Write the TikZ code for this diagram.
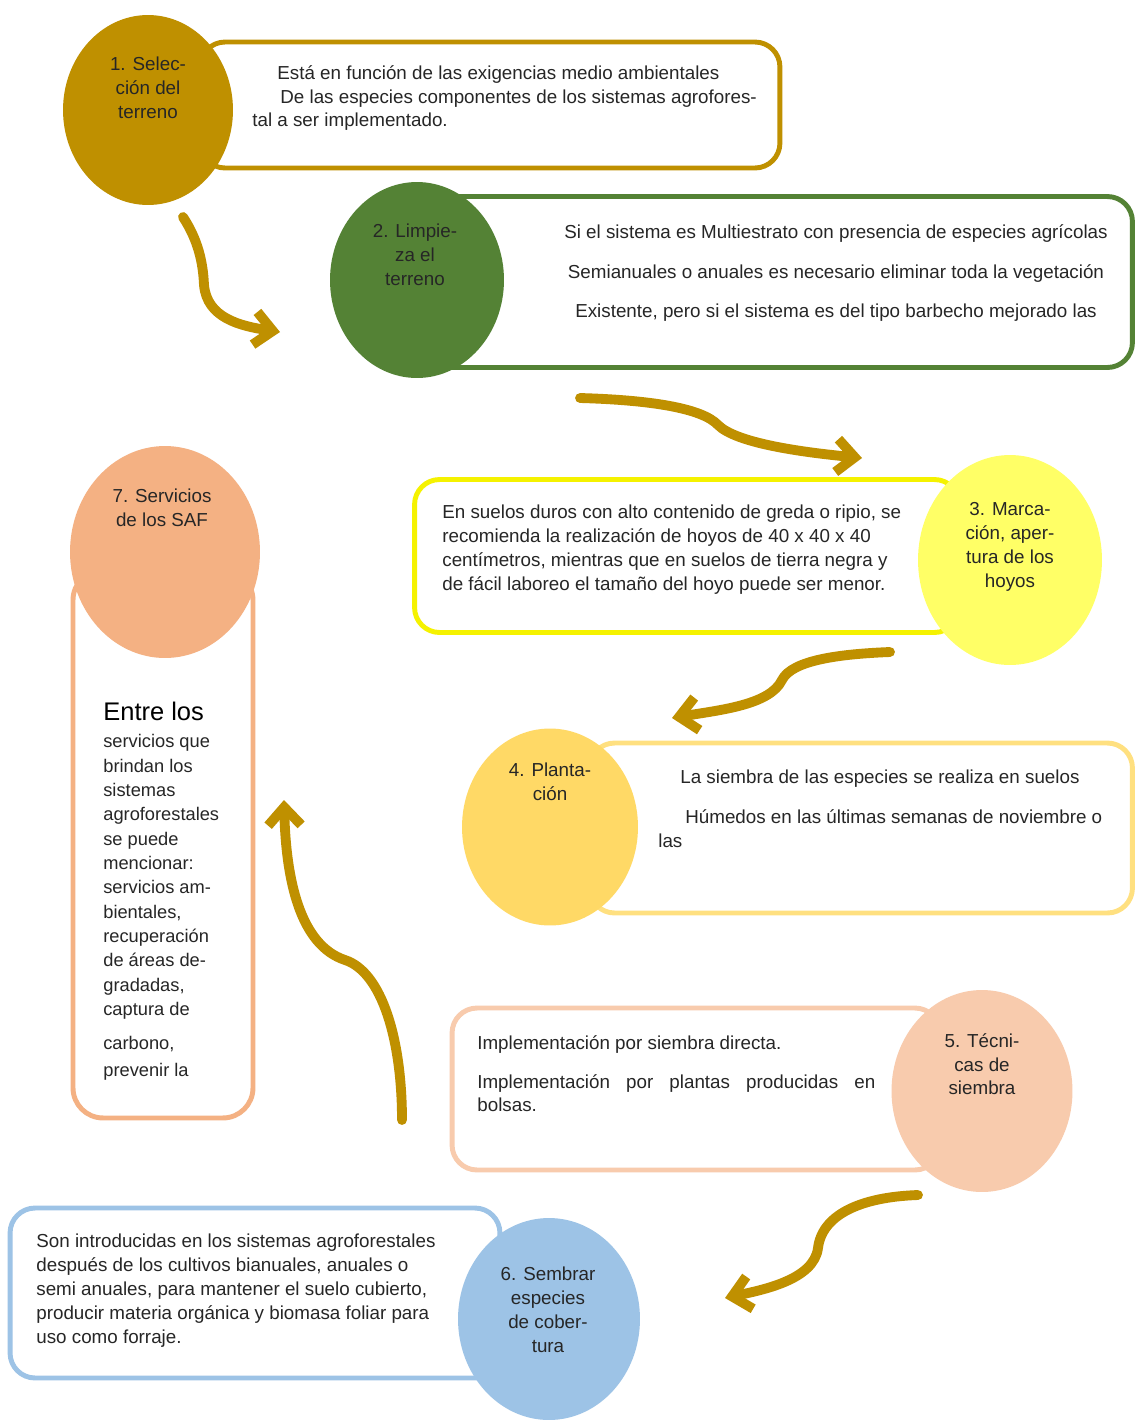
\documentclass[tikz,border=0pt]{standalone}
\usepackage{fontspec}
\setmainfont{Liberation Sans}
\usepackage{tikz}
\usetikzlibrary{arrows.meta,shapes.geometric}

\definecolor{safgold}{HTML}{BF9000}
\definecolor{safgreen}{HTML}{548235}
\definecolor{safyellow}{HTML}{F5F200}
\definecolor{safyellowfill}{HTML}{FFFF66}
\definecolor{saflgold}{HTML}{FFD966}
\definecolor{saflgoldline}{HTML}{FFE080}
\definecolor{safpeach}{HTML}{F8CBAD}
\definecolor{safblue}{HTML}{9DC3E6}
\definecolor{saforange}{HTML}{F4B183}
\definecolor{saftext}{HTML}{262626}

\begin{document}
\begin{tikzpicture}[x=0.02cm, y=-0.02cm,
  stagebox/.style={draw=#1, line width=2.8pt, rounded corners=0.5cm, fill=white, inner sep=0pt},
  stagedot/.style={ellipse, fill=#1, inner sep=0pt},
  dottext/.style={anchor=north, align=center, inner sep=0pt, text=saftext,
    font=\fontsize{10.7}{13.6}\selectfont},
  boxtext/.style={anchor=north west, align=left, inner sep=0pt, text=saftext,
    font=\fontsize{10.7}{13.6}\selectfont},
  flow/.style={safgold, line width=5.6pt, line cap=round,
    -{Straight Barb[length=0.36cm, width=0.66cm]}}]

\useasboundingbox[fill=white] (0,0) rectangle (1135,1421);

% Boxes
\node[stagebox=safgold, minimum width=11.6cm, minimum height=2.52cm] (box1) at (490,105) {};
\node[stagebox=safgreen, minimum width=14.26cm, minimum height=3.42cm] (box2) at (776,282) {};
\node[stagebox=safyellow, minimum width=10.9cm, minimum height=3.06cm] (box3) at (687,556) {};
\node[stagebox=saflgoldline, minimum width=10.86cm, minimum height=3.4cm] (box4) at (861,828) {};
\node[stagebox=safpeach, minimum width=9.76cm, minimum height=3.24cm] (box5) at (696,1089) {};
\node[stagebox=safblue, minimum width=9.8cm, minimum height=3.4cm] (box6) at (255,1293) {};
\node[stagebox=saforange, rounded corners=0.6cm, minimum width=3.6cm, minimum height=10.96cm] (box7) at (163,844) {};

% Circles
\node[stagedot=safgold, minimum width=3.4cm, minimum height=3.8cm] (dot1) at (148,110) {};
\node[stagedot=safgreen, minimum width=3.48cm, minimum height=3.92cm] (dot2) at (417,280) {};
\node[stagedot=safyellowfill, minimum width=3.68cm, minimum height=4.2cm] (dot3) at (1010,560) {};
\node[stagedot=saflgold, minimum width=3.52cm, minimum height=3.94cm] (dot4) at (550,827) {};
\node[stagedot=safpeach, minimum width=3.62cm, minimum height=4.04cm] (dot5) at (982,1091) {};
\node[stagedot=safblue, minimum width=3.64cm, minimum height=4.04cm] (dot6) at (549,1319) {};
\node[stagedot=saforange, minimum width=3.8cm, minimum height=4.24cm] (dot7) at (165,552) {};

% Circle labels
\node[dottext] (lab1) at (148,57) {1. Selec-\\ción del\\terreno};
\node[dottext] (lab2) at (415,224) {2. Limpie-\\za el\\terreno};
\node[dottext] (lab3) at (1010,502) {3. Marca-\\ción, aper-\\tura de los\\hoyos};
\node[dottext] (lab4) at (550,763) {4. Planta-\\ción};
\node[dottext] (lab5) at (982,1033) {5. Técni-\\cas de\\siembra};
\node[dottext] (lab6) at (548,1267) {6. Sembrar\\especies\\de cober-\\tura};
\node[dottext] (lab7) at (162,489) {7. Servicios\\de los SAF};

% Box texts
\node[boxtext] (txt1) at (252,65) {\hspace*{0.5cm}Está en función de las exigencias medio ambientales\\
  \hspace*{0.56cm}De las especies componentes de los sistemas agrofores-\\
  tal a ser implementado.};
\node[boxtext, anchor=north, align=center, font=\fontsize{10.7}{22.7}\selectfont] (txt2) at (836,224)
  {Si el sistema es Multiestrato con presencia de especies agrícolas\\
   Semianuales o anuales es necesario eliminar toda la vegetación\\
   Existente, pero si el sistema es del tipo barbecho mejorado las};
\node[boxtext] (txt3) at (442,505) {En suelos duros con alto contenido de greda o ripio, se\\
  recomienda la realización de hoyos de 40 x 40 x 40\\
  centímetros, mientras que en suelos de tierra negra y\\
  de fácil laboreo el tamaño del hoyo puede ser menor.};
\node[boxtext] (txt4) at (658,770) {\hspace*{0.44cm}La siembra de las especies se realiza en suelos\\[9.1pt]
  \hspace*{0.54cm}Húmedos en las últimas semanas de noviembre o\\
  las};
\node[boxtext] (txt5) at (477,1035) {Implementación por siembra directa.\\[8.5pt]
  \makebox[7.96cm][s]{Implementación por plantas producidas en}\\
  bolsas.};
\node[boxtext] (txt6) at (36,1234) {Son introducidas en los sistemas agroforestales\\
  después de los cultivos bianuales, anuales o\\
  semi anuales, para mantener el suelo cubierto,\\
  producir materia orgánica y biomasa foliar para\\
  uso como forraje.};
\node[boxtext, font=\fontsize{10.4}{13.85}\selectfont] (txt7) at (103,702)
  {{\color{black}\fontsize{14.5}{15}\selectfont Entre los}\\[1.5pt]
  servicios que\\ brindan los\\ sistemas\\ agroforestales\\ se puede\\
  mencionar:\\ servicios am-\\ bientales,\\ recuperación\\ de áreas de-\\
  gradadas,\\ captura de\\[5.4pt] carbono,\\[1.5pt] prevenir la};

% Flow arrows
\coordinate (f1s) at (183,217);  \coordinate (f1e) at (280,332);
\coordinate (f2s) at (580,398);  \coordinate (f2e) at (862,458);
\coordinate (f3s) at (890,652);  \coordinate (f3e) at (672,718);
\coordinate (f5s) at (918,1195); \coordinate (f5e) at (725,1298);
\coordinate (f6s) at (402,1120); \coordinate (f6e) at (284,800);

\draw[flow] (f1s) .. controls (198,240) and (203,262) .. (204,285)
  .. controls (207,318) and (240,326) .. (f1e);
\draw[flow] (f2s) .. controls (650,400) and (702,408) .. (718,425)
  .. controls (736,443) and (800,452) .. (f2e);
\draw[flow] (f3s) .. controls (840,654) and (792,660) .. (782,680)
  .. controls (770,705) and (720,710) .. (f3e);
\draw[flow] (f5s) .. controls (860,1197) and (822,1215) .. (818,1248)
  .. controls (814,1280) and (762,1290) .. (f5e);
\draw[flow] (f6s) .. controls (402,1040) and (382,972) .. (345,960)
  .. controls (300,945) and (286,880) .. (f6e);

\end{tikzpicture}
\end{document}
